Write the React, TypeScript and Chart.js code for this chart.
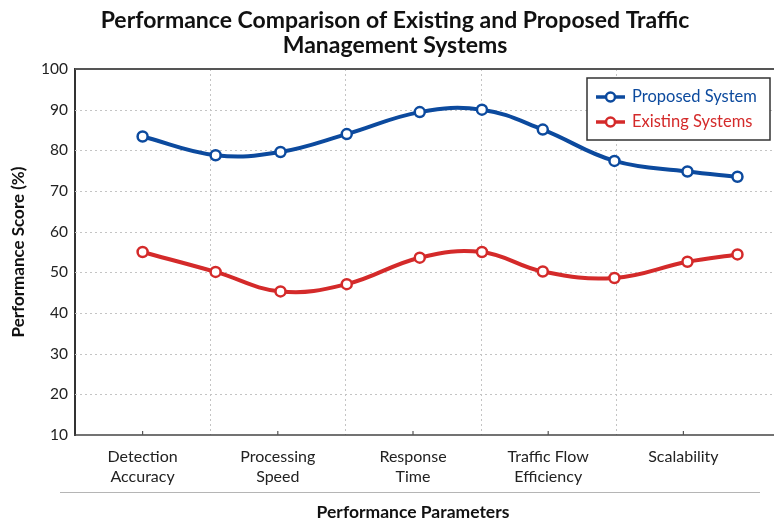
import React, { useEffect, useRef } from 'react';
import { Chart, registerables } from 'chart.js';

Chart.register(...registerables);

const titleLines = ['Performance Comparison of Existing and Proposed Traffic', 'Management Systems'];
const xAxisTitle = 'Performance Parameters';
const yAxisTitle = 'Performance Score (%)';
const categories = [
  ['Detection', 'Accuracy'],
  ['Processing', 'Speed'],
  ['Response', 'Time'],
  ['Traffic Flow', 'Efficiency'],
  ['Scalability'],
];
// positions of the measured points, in category units (0 = first category centre)
const pointPositions = [0, 0.54, 1.02, 1.51, 2.05, 2.51, 2.96, 3.49, 4.03, 4.4];
const proposedValues = [83.4, 78.8, 79.6, 84.0, 89.4, 90.0, 85.1, 77.4, 74.8, 73.5];
const existingValues = [55.0, 50.1, 45.3, 47.1, 53.6, 55.0, 50.2, 48.6, 52.6, 54.4];
const seriesNames = ['Proposed System', 'Existing Systems'];
const yMin = 10;
const yMax = 100;
const yStep = 10;

const BLUE = '#0c4a9e';
const RED = '#d42a2a';
const FONT = 'Lato, "Open Sans", sans-serif';
const TITLE_SIZE = 23;
const TITLE_LH = 1.1;

const line = (ctx: any, x1: number, y1: number, x2: number, y2: number) => {
  ctx.beginPath();
  ctx.moveTo(x1, y1);
  ctx.lineTo(x2, y2);
  ctx.stroke();
};

const decorPlugin = {
  id: 'decor',
  beforeDatasetsDraw(chart: any) {
    const { ctx, chartArea: a, width } = chart;
    const xs = chart.scales.x;
    const ys = chart.scales.y;
    ctx.save();
    ctx.strokeStyle = '#c4c4c4';
    ctx.lineWidth = 1;
    ctx.setLineDash([2, 3]);
    // dotted vertical grid lines between categories
    for (let i = 1; i < categories.length; i++) {
      const px = Math.round((xs.getPixelForTick(i - 1) + xs.getPixelForTick(i)) / 2) + 0.5;
      line(ctx, px, a.top, px, a.bottom);
    }
    // dotted horizontal grid lines, running to the right edge of the page
    ys.ticks.forEach((t: any) => {
      if (t.value <= yMin || t.value >= yMax) return;
      const py = Math.round(ys.getPixelForValue(t.value)) + 0.5;
      line(ctx, a.left, py, width, py);
    });
    ctx.restore();
  },
  afterDraw(chart: any) {
    const { ctx, chartArea: a, width } = chart;
    ctx.save();
    // title (centred on the page like the reference)
    ctx.fillStyle = '#111';
    ctx.font = `bold ${TITLE_SIZE}px ${FONT}`;
    ctx.textAlign = 'center';
    ctx.textBaseline = 'middle';
    titleLines.forEach((t, i) => {
      ctx.fillText(t, 395, 8 + TITLE_SIZE * TITLE_LH * (i + 0.5));
    });
    // top frame line
    ctx.strokeStyle = '#555';
    ctx.lineWidth = 2;
    line(ctx, a.left, a.top, width, a.top);
    // bottom axis line
    ctx.strokeStyle = '#444';
    ctx.lineWidth = 1.5;
    line(ctx, a.left - 1, a.bottom, width, a.bottom);
    // small tick marks at category centres
    const xs = chart.scales.x;
    ctx.lineWidth = 1.2;
    ctx.strokeStyle = '#555';
    for (let i = 0; i < categories.length; i++) {
      const px = xs.getPixelForTick(i);
      line(ctx, px, a.bottom, px, a.bottom - 4);
    }
    // separator under tick labels
    ctx.strokeStyle = '#b5b5b5';
    ctx.lineWidth = 1;
    line(ctx, 60, 492.5, 760, 492.5);
    // x title
    ctx.fillStyle = '#111';
    ctx.font = `bold 17.5px ${FONT}`;
    ctx.textAlign = 'center';
    ctx.textBaseline = 'middle';
    ctx.fillText(xAxisTitle, (a.left + a.right) / 2, 512);
    // y title
    ctx.save();
    ctx.translate(19, (a.top + a.bottom) / 2);
    ctx.rotate(-Math.PI / 2);
    ctx.font = `bold 17px ${FONT}`;
    ctx.fillText(yAxisTitle, 0, 0);
    ctx.restore();
    // legend box
    const bx = 587;
    const by = a.top + 9;
    const bw = 183;
    const bh = 62;
    ctx.fillStyle = '#fff';
    ctx.fillRect(bx, by, bw, bh);
    ctx.strokeStyle = '#333';
    ctx.lineWidth = 1.5;
    ctx.strokeRect(bx, by, bw, bh);
    chart.data.datasets.forEach((ds: any, i: number) => {
      const cy = by + 19 + i * 25;
      ctx.strokeStyle = ds.borderColor;
      ctx.lineWidth = 3.5;
      line(ctx, bx + 9, cy, bx + 38, cy);
      ctx.beginPath();
      ctx.arc(bx + 23.5, cy, 4.5, 0, Math.PI * 2);
      ctx.fillStyle = '#fff';
      ctx.fill();
      ctx.lineWidth = 2.5;
      ctx.stroke();
      ctx.fillStyle = ds.borderColor;
      ctx.font = `16.5px ${FONT}`;
      ctx.textAlign = 'left';
      ctx.textBaseline = 'middle';
      ctx.fillText(ds.label, bx + 45, cy);
    });
    ctx.restore();
  },
};

export default function App() {
  const ref = useRef<HTMLCanvasElement | null>(null);

  useEffect(() => {
    document.body.style.margin = '0';
    const canvas = ref.current;
    if (!canvas) return;
    const makeDs = (label: string, values: number[], color: string) => ({
      label,
      data: values.map((v, i) => ({ x: pointPositions[i], y: v })),
      borderColor: color,
      backgroundColor: color,
      borderWidth: 4,
      tension: 0.4,
      pointRadius: 5,
      pointBorderWidth: 2.5,
      pointBackgroundColor: '#fff',
      pointBorderColor: color,
      xAxisID: 'xd',
      yAxisID: 'y',
    });
    const chart = new Chart(canvas, {
      type: 'line',
      data: {
        labels: categories as any,
        datasets: [
          makeDs(seriesNames[0], proposedValues, BLUE),
          makeDs(seriesNames[1], existingValues, RED),
        ],
      },
      options: {
        responsive: false,
        animation: false,
        layout: { padding: { left: 0, right: 23, top: 0, bottom: 0 } },
        font: { family: FONT } as any,
        plugins: {
          legend: { display: false },
          tooltip: { enabled: false },
          title: {
            // reserves the space; the visible text is drawn by decorPlugin
            display: true,
            text: titleLines,
            color: 'rgba(0,0,0,0)',
            font: { family: FONT, size: TITLE_SIZE, weight: 'bold', lineHeight: TITLE_LH },
            padding: { top: 8, bottom: 10.4 },
          },
        },
        scales: {
          x: {
            type: 'category',
            position: 'bottom',
            offset: true,
            grid: { display: false, drawOnChartArea: false, drawTicks: false },
            border: { display: false },
            ticks: {
              color: '#222',
              font: { family: FONT, size: 16, lineHeight: 1.25 },
              padding: 12,
              maxRotation: 0,
              autoSkip: false,
            },
            afterFit: (s: any) => {
              s.height = 90;
            },
          },
          xd: {
            type: 'linear',
            display: false,
            min: -0.5,
            max: 4.5,
            position: 'bottom',
          },
          y: {
            type: 'linear',
            min: yMin,
            max: yMax,
            grid: { display: false, drawTicks: false },
            border: { display: true, color: '#333', width: 2 },
            ticks: {
              stepSize: yStep,
              color: '#222',
              font: { family: FONT, size: 15.5 },
              padding: 7,
            },
            afterFit: (s: any) => {
              s.width = 75;
            },
          },
        },
      } as any,
      plugins: [decorPlugin],
    });
    return () => chart.destroy();
  }, []);

  return (
    <div style={{ width: 774, height: 525 }}>
      <canvas ref={ref} width={774} height={525} style={{ display: 'block' }} />
    </div>
  );
}
